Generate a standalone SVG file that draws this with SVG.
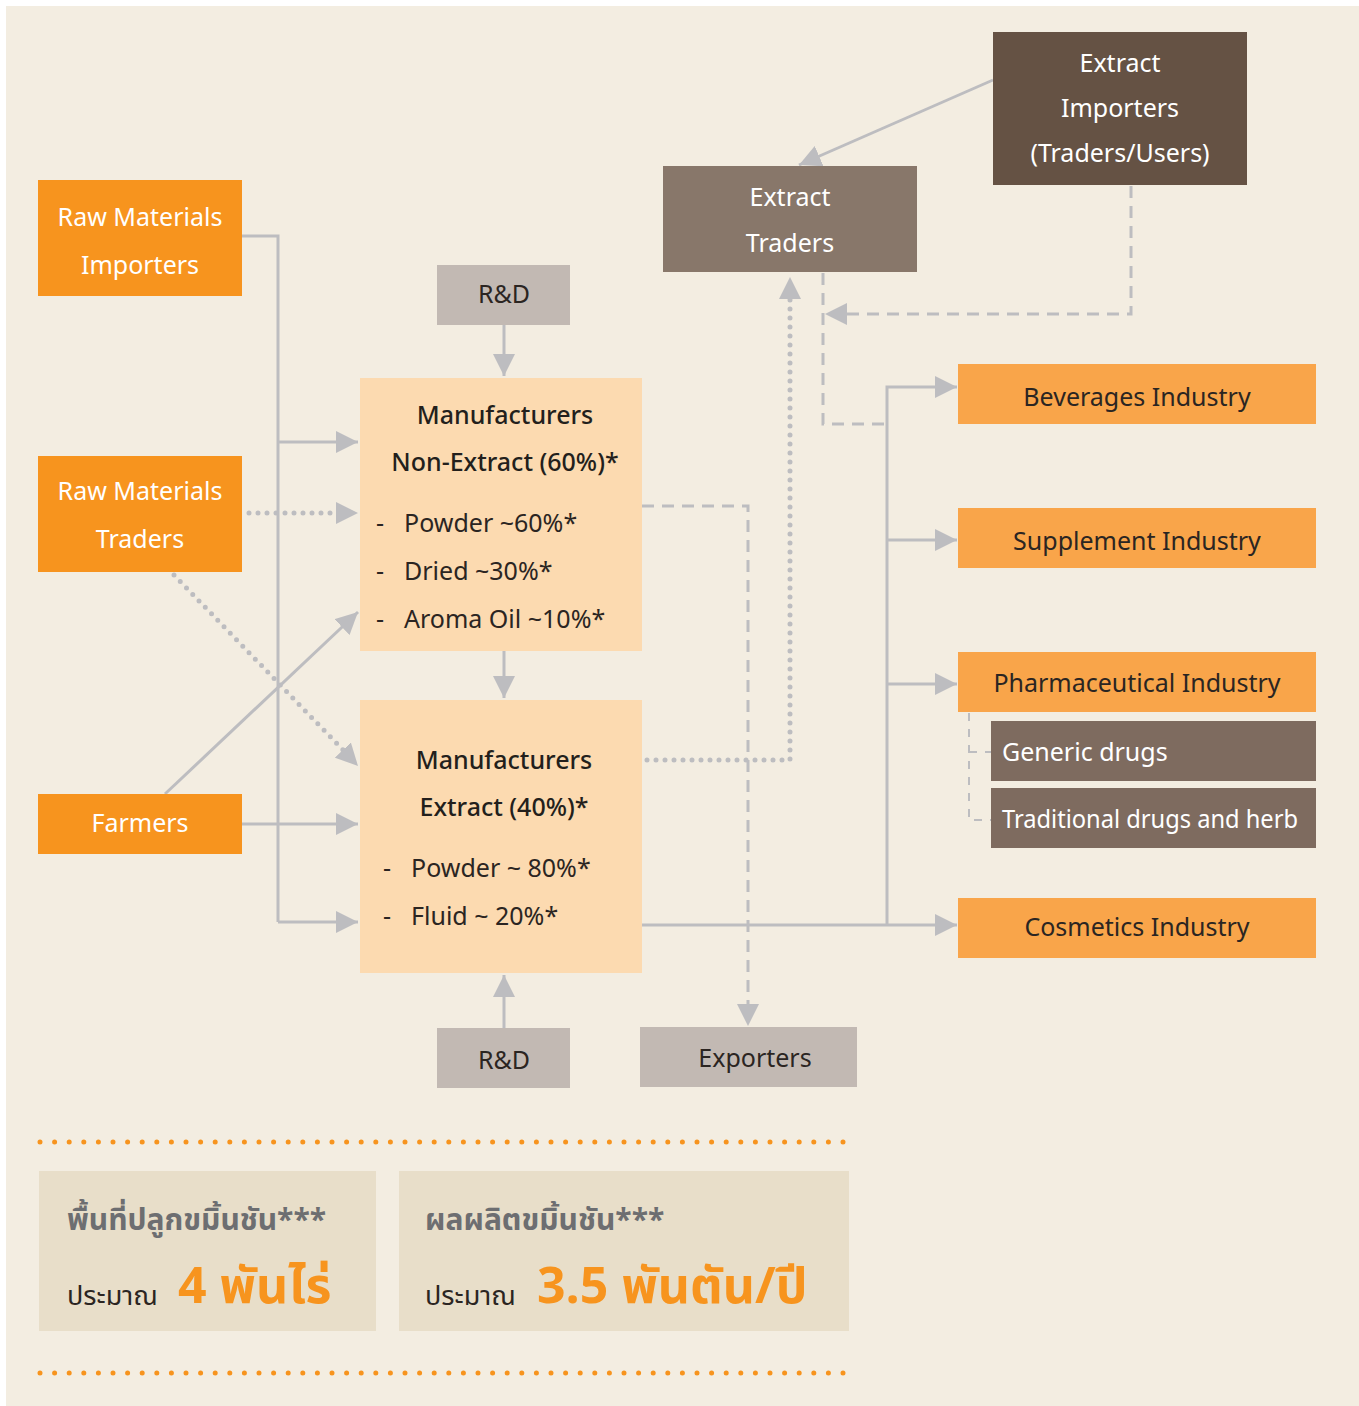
<svg xmlns="http://www.w3.org/2000/svg" width="1359" height="1406" viewBox="0 0 1359 1406">
<defs>
<style>
.bg{fill:#F3EDE1}
.org{fill:#F7941E}
.ind{fill:#F9A54A}
.mfg{fill:#FCDAB0}
.gry{fill:#C2B9B3}
.et{fill:#88776A}
.ei{fill:#655244}
.sub{fill:#7E6B5F}
.stat{fill:#E8DEC9}
text{font-family:"Noto Sans","Open Sans","Liberation Sans",sans-serif}
.w{fill:#FFFFFF;font-size:25px}
.d{fill:#2B2522;font-size:25px}
.dm{fill:#231F1C;font-size:25px;font-weight:500}
.c{text-anchor:middle}
.ln{fill:none;stroke:#BDBDC0;stroke-width:3}
.dash{fill:none;stroke:#BDBDC0;stroke-width:3;stroke-dasharray:12 8}
.dot{fill:none;stroke:#BDBDC0;stroke-width:5;stroke-linecap:round;stroke-dasharray:0 9}
.odot{fill:none;stroke:#F7941E;stroke-width:5;stroke-linecap:round;stroke-dasharray:0 14.6}
.th{font-family:"Noto Sans Thai","Noto Sans","DejaVu Sans",sans-serif}
</style>
<marker id="ah" viewBox="0 0 10 10" refX="10" refY="5" markerWidth="22" markerHeight="22" markerUnits="userSpaceOnUse" orient="auto">
<path d="M0,0 L10,5 L0,10 z" fill="#BDBDC0"/>
</marker>
</defs>
<rect x="0" y="0" width="1359" height="1406" fill="#FFFFFF"/>
<rect class="bg" x="6" y="6" width="1353" height="1400"/>

<g id="connectors">
<path class="ln" d="M242,236 H278 V922"/>
<path class="ln" d="M278,442 H358" marker-end="url(#ah)"/>
<path class="ln" d="M278,922 H358" marker-end="url(#ah)"/>
<path class="dot" d="M249,513 H340"/>
<path class="ln" d="M338,513 H358" marker-end="url(#ah)" stroke-opacity="0"/>
<path class="dot" d="M174,575 L345,752"/>
<path class="ln" d="M340,747 L358,766" marker-end="url(#ah)" stroke-opacity="0"/>
<path class="ln" d="M165,794 L358,612" marker-end="url(#ah)"/>
<path class="ln" d="M242,824 H358" marker-end="url(#ah)"/>
<path class="ln" d="M504,325 V376" marker-end="url(#ah)"/>
<path class="ln" d="M504,651 V698" marker-end="url(#ah)"/>
<path class="ln" d="M504,1028 V975" marker-end="url(#ah)"/>
<path class="dash" d="M642,506 H748 V1008"/>
<path class="ln" d="M748,1005 V1026" marker-end="url(#ah)" stroke-opacity="0"/>
<path class="dot" d="M647,760 H790 V296"/>
<path class="ln" d="M790,300 V277" marker-end="url(#ah)" stroke-opacity="0"/>
<path class="ln" d="M993,80 L799,165" marker-end="url(#ah)"/>
<path class="dash" d="M1131,186 V314 H845"/>
<path class="ln" d="M846,314 H825" marker-end="url(#ah)" stroke-opacity="0"/>
<path class="dash" d="M823,273 V424 H887"/>
<path class="ln" d="M642,925 H957" marker-end="url(#ah)"/>
<path class="ln" d="M887,925 V387 H957" marker-end="url(#ah)"/>
<path class="ln" d="M887,540 H957" marker-end="url(#ah)"/>
<path class="ln" d="M887,684 H957" marker-end="url(#ah)"/>
<path class="dash" style="stroke-width:2;stroke-dasharray:8 8" d="M969,713 V820 H991 M969,752 H991"/>
<path class="odot" d="M40,1142 H846"/>
<path class="odot" d="M40,1373 H846"/>
</g>

<g id="raw-importers">
<rect class="org" x="38" y="180" width="204" height="116"/>
<text class="w c" x="140" y="226">Raw Materials</text>
<text class="w c" x="140" y="274">Importers</text>
</g>
<g id="raw-traders">
<rect class="org" x="38" y="456" width="204" height="116"/>
<text class="w c" x="140" y="500">Raw Materials</text>
<text class="w c" x="140" y="548">Traders</text>
</g>
<g id="farmers">
<rect class="org" x="38" y="794" width="204" height="60"/>
<text class="w c" x="140" y="832">Farmers</text>
</g>
<g id="rd-top">
<rect class="gry" x="437" y="265" width="133" height="60"/>
<text class="d c" x="504" y="303">R&amp;D</text>
</g>
<g id="mfg-nonextract">
<rect class="mfg" x="360" y="378" width="282" height="273"/>
<text class="dm c" x="505" y="424">Manufacturers</text>
<text class="dm c" x="505" y="471">Non-Extract (60%)*</text>
<text class="d" x="376" y="532">-</text><text class="d" x="404" y="532">Powder ~60%*</text>
<text class="d" x="376" y="580">-</text><text class="d" x="404" y="580">Dried ~30%*</text>
<text class="d" x="376" y="628">-</text><text class="d" x="404" y="628">Aroma Oil ~10%*</text>
</g>
<g id="mfg-extract">
<rect class="mfg" x="360" y="700" width="282" height="273"/>
<text class="dm c" x="504" y="769">Manufacturers</text>
<text class="dm c" x="504" y="816">Extract (40%)*</text>
<text class="d" x="383" y="877">-</text><text class="d" x="411" y="877">Powder ~ 80%*</text>
<text class="d" x="383" y="925">-</text><text class="d" x="411" y="925">Fluid ~ 20%*</text>
</g>
<g id="rd-bottom">
<rect class="gry" x="437" y="1028" width="133" height="60"/>
<text class="d c" x="504" y="1069">R&amp;D</text>
</g>
<g id="exporters">
<rect class="gry" x="640" y="1027" width="217" height="60"/>
<text class="d c" x="755" y="1067">Exporters</text>
</g>
<g id="extract-traders">
<rect class="et" x="663" y="166" width="254" height="106"/>
<text class="w c" x="790" y="206">Extract</text>
<text class="w c" x="790" y="252">Traders</text>
</g>
<g id="extract-importers">
<rect class="ei" x="993" y="32" width="254" height="153"/>
<text class="w c" x="1120" y="72">Extract</text>
<text class="w c" x="1120" y="117">Importers</text>
<text class="w c" x="1120" y="162">(Traders/Users)</text>
</g>
<g id="beverages">
<rect class="ind" x="958" y="364" width="358" height="60"/>
<text class="d c" x="1137" y="406">Beverages Industry</text>
</g>
<g id="supplement">
<rect class="ind" x="958" y="508" width="358" height="60"/>
<text class="d c" x="1137" y="550">Supplement Industry</text>
</g>
<g id="pharma">
<rect class="ind" x="958" y="652" width="358" height="60"/>
<text class="d c" x="1137" y="692">Pharmaceutical Industry</text>
</g>
<g id="generic">
<rect class="sub" x="991" y="721" width="325" height="60"/>
<text class="w" x="1002" y="761">Generic drugs</text>
</g>
<g id="traditional">
<rect class="sub" x="991" y="788" width="325" height="60"/>
<text class="w" x="1002" y="828" textLength="296" lengthAdjust="spacingAndGlyphs">Traditional drugs and herb</text>
</g>
<g id="cosmetics">
<rect class="ind" x="958" y="898" width="358" height="60"/>
<text class="d c" x="1137" y="936">Cosmetics Industry</text>
</g>

<g id="stat-area">
<rect class="stat" x="39" y="1171" width="337" height="160"/>
<text class="th" x="67" y="1230" fill="#6D6E71" font-size="30" font-weight="700">พื้นที่ปลูกขมิ้นชัน***</text>
<text class="th" x="67" y="1305" fill="#2B2522" font-size="27">ประมาณ</text>
<text class="th" x="178" y="1303" fill="#F7941E" font-size="50" font-weight="700">4 พันไร่</text>
</g>
<g id="stat-yield">
<rect class="stat" x="399" y="1171" width="450" height="160"/>
<text class="th" x="425" y="1230" fill="#6D6E71" font-size="30" font-weight="700">ผลผลิตขมิ้นชัน***</text>
<text class="th" x="425" y="1305" fill="#2B2522" font-size="27">ประมาณ</text>
<text class="th" x="537" y="1303" fill="#F7941E" font-size="50" font-weight="700">3.5 พันตัน/ปี</text>
</g>
</svg>
